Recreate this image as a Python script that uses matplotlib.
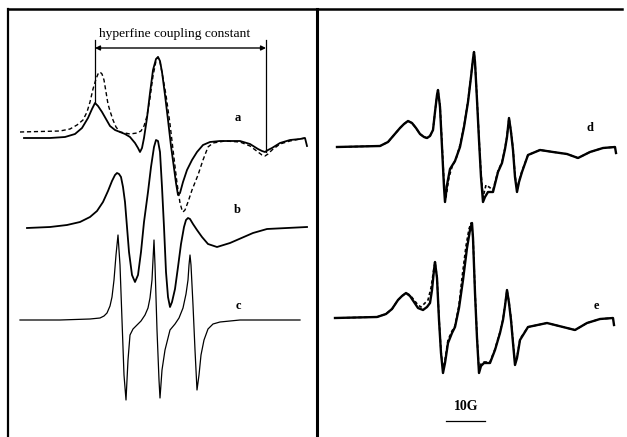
import numpy as np
import matplotlib
matplotlib.use("Agg")
import matplotlib.pyplot as plt

# field position (arb. units) and derivative signal (arb. units, up = positive)
# spectrum a: solid and dashed traces
a_field = [24, 50, 65, 75, 82, 88, 92, 95, 98, 102, 106, 110, 115, 120, 125, 130, 135, 138, 140, 142,
           144, 147, 150, 153, 156, 158, 160, 162, 165, 168, 171, 174, 176, 178, 180, 183, 187, 192, 197,
           203, 210, 220, 240, 250, 258, 262, 265, 268, 272, 280, 290, 300, 305, 307]
a_signal = [0, 0, 1, 4, 10, 20, 29, 35, 32, 26, 19, 12, 8, 6, 4, 1, -5, -10, -14, -10,
            0, 20, 45, 68, 79, 81, 77, 66, 43, 18, -8, -30, -45, -57, -55, -44, -32, -22, -14,
            -7, -4, -3, -3, -6, -11, -13, -14, -12, -10, -5, -2, -1, 0, -8]
a2_field = [20, 60, 70, 77, 83, 87, 90, 93, 96, 98, 100, 102, 104, 106, 108, 110, 113, 116, 120, 125,
            130, 137, 141, 144, 147, 150, 153, 156, 158, 160, 163, 166, 170, 174, 177, 180, 182, 183,
            185, 188, 192, 198, 203, 208, 213, 225, 240, 250, 258, 262, 265, 268, 272, 280, 290, 300, 305]
a2_signal = [6, 7, 9, 13, 18, 26, 36, 49, 59, 64, 66, 64, 58, 46, 34, 27, 18, 11, 6, 5,
             4, 5, 7, 12, 22, 40, 62, 77, 81, 76, 60, 43, 14, -20, -45, -65, -72, -74,
             -72, -64, -52, -37, -22, -9, -5, -3, -4, -8, -14, -17, -18, -16, -12, -6, -3, -1, 0]

# spectrum b
b_field = [27, 50, 67, 80, 90, 97, 103, 108, 112, 115, 117, 119, 121, 123, 125, 127, 129, 132, 135, 138,
           141, 144, 148, 151, 154, 156, 158, 160, 162, 164, 166, 168, 170, 172, 175, 178, 181, 184, 186,
           188, 190, 193, 197, 202, 208, 217, 230, 253, 267, 307]
b_signal = [-1, 0, 2, 5, 10, 16, 25, 36, 46, 52, 54, 53, 50, 40, 25, 0, -25, -48, -55, -48,
            -25, 5, 35, 60, 80, 87, 86, 75, 40, 0, -45, -70, -80, -75, -62, -40, -17, 0, 7,
            9, 8, 3, -3, -10, -17, -20, -16, -6, -2, 0]

# spectrum c
c_field = [20, 60, 90, 100, 104, 107, 110, 112, 114, 116, 118, 120, 122, 124, 126, 128, 130, 133, 137, 141,
           145, 148, 150, 152, 153, 154, 155, 157, 159, 160, 162, 165, 170, 175, 179, 183, 186, 188, 189,
           190, 191, 193, 195, 197, 199, 201, 204, 208, 213, 220, 240, 270, 300]
c_signal = [0, 0, 1, 2, 4, 7, 14, 23, 40, 65, 85, 55, 0, -55, -80, -40, -15, -9, -5, -1,
            5, 12, 22, 40, 60, 80, 55, -10, -60, -78, -50, -30, -10, -4, 2, 12, 26, 40, 55,
            65, 55, 15, -30, -70, -55, -35, -20, -9, -4, -2, 0, 0, 0]

# spectrum d: solid and dashed traces
d_field = [337, 380, 388, 394, 400, 404, 408, 412, 416, 420, 424, 427, 430, 433, 435, 437, 438, 440, 442,
           444, 445, 447, 450, 455, 460, 464, 468, 471, 473, 474, 475, 477, 479, 481, 483, 485, 488, 493,
           498, 502, 505, 507, 509, 511, 513, 515, 517, 519, 522, 528, 540, 553, 567, 578, 590, 603, 615, 616]
d_signal = [0, 1, 5, 12, 19, 23, 26, 24, 19, 13, 10, 9, 11, 17, 35, 52, 57, 40, 0,
            -40, -55, -38, -22, -14, 0, 20, 45, 70, 88, 95, 85, 47, 7, -30, -55, -50, -45, -45,
            -25, -16, -2, 10, 29, 15, -3, -30, -45, -35, -25, -8, -3, -5, -7, -11, -5, -1, 0, -6]
d2_field = [337, 380, 388, 394, 400, 404, 408, 412, 416, 420, 424, 427, 430, 433, 435, 437, 438, 440, 442,
            444, 446, 449, 452, 456, 460, 464, 468, 471, 473, 474, 475, 477, 479, 481, 483, 486, 489, 493,
            498, 502, 505, 507, 509, 511, 513, 515, 517, 519, 522, 528, 540, 553, 567, 578, 590, 603, 615]
d2_signal = [0, 1, 5, 12, 19, 23, 26, 24, 19, 13, 10, 9, 11, 17, 35, 52, 56, 42, 4,
             -36, -50, -30, -20, -12, 2, 21, 46, 71, 88, 95, 85, 49, 9, -26, -50, -38, -40, -43,
             -24, -15, -1, 11, 29, 16, -1, -28, -43, -34, -24, -8, -3, -5, -7, -11, -5, -1, 0]

# spectrum e: solid and dashed traces
e_field = [335, 377, 386, 392, 398, 402, 406, 410, 414, 418, 423, 427, 430, 432, 434, 435, 437, 439, 441,
           443, 445, 448, 452, 455, 459, 463, 467, 470, 472, 473, 475, 477, 479, 481, 484, 490, 495, 500,
           503, 505, 507, 509, 511, 513, 515, 517, 520, 528, 547, 563, 575, 587, 600, 613, 614]
e_signal = [0, 1, 4, 9, 18, 22, 25, 22, 16, 10, 8, 11, 15, 28, 48, 56, 40, -2, -35,
            -55, -45, -25, -15, -9, 10, 38, 70, 88, 95, 80, 25, -20, -55, -48, -45, -45, -32, -15,
            -2, 12, 28, 15, -2, -25, -47, -40, -22, -9, -5, -9, -12, -5, -1, 0, -7]
e2_field = [335, 377, 386, 392, 398, 402, 406, 410, 414, 418, 421, 425, 428, 431, 434, 435, 437, 439, 441,
            443, 445, 448, 452, 455, 459, 462, 466, 469, 471, 473, 475, 477, 479, 481, 484, 490, 495, 500,
            503, 505, 507, 509, 511, 513, 515, 517, 520, 528, 547, 563, 575, 587, 600, 613]
e2_signal = [0, 1, 4, 9, 18, 22, 25, 23, 18, 13, 11, 15, 18, 30, 50, 56, 41, 0, -33,
             -52, -42, -22, -13, -8, 13, 40, 72, 89, 95, 82, 27, -18, -52, -46, -44, -44, -31, -14,
             -1, 13, 28, 16, 0, -23, -45, -39, -21, -9, -5, -9, -12, -5, -1, 0]

labels = ["a", "b", "c", "d", "e"]

fig = plt.figure(figsize=(6.27, 4.37), dpi=100)
ax = fig.add_axes([0, 0, 1, 1])
ax.set_xlim(0, 627)
ax.set_ylim(437, 0)
ax.axis("off")

serif = ["Liberation Serif", "DejaVu Serif"]

# baselines of the stacked spectra
base = {"a": 138, "b": 227, "c": 320, "d": 147, "e": 318}
kw = dict(color="black", solid_joinstyle="round", dash_joinstyle="round")

ax.plot(a_field, base["a"] - np.array(a_signal), lw=1.3, **kw)
ax.plot(a2_field, base["a"] - np.array(a2_signal), lw=1.0, ls=(0, (3, 2)), **kw)
ax.plot(b_field, base["b"] - np.array(b_signal), lw=1.3, **kw)
ax.plot(c_field, base["c"] - np.array(c_signal), lw=0.9, **kw)
ax.plot(d2_field, base["d"] - np.array(d2_signal), lw=1.2, ls=(0, (2, 1.5)), **kw)
ax.plot(d_field, base["d"] - np.array(d_signal), lw=1.7, **kw)
ax.plot(e2_field, base["e"] - np.array(e2_signal), lw=1.2, ls=(0, (2, 1.5)), **kw)
ax.plot(e_field, base["e"] - np.array(e_signal), lw=1.7, **kw)

label_pos = {"a": (238, 118), "b": (237, 210), "c": (238, 306), "d": (590, 128), "e": (596, 306)}
for lab in labels:
    ax.text(*label_pos[lab], lab, ha="center", va="center", fontsize=9,
            fontweight="bold", family=serif)

# hyperfine coupling constant marker
ax.plot([95, 95], [40, 103], color="black", lw=0.9)
ax.plot([266, 266], [40, 152], color="black", lw=0.9)
ax.annotate("", xy=(95, 48), xytext=(266, 48),
            arrowprops=dict(arrowstyle="<|-|>", color="black", lw=1.0,
                            mutation_scale=7, shrinkA=0, shrinkB=0))
ax.text(175, 34, "hyperfine coupling constant", ha="center", va="center",
        fontsize=9.7, family=serif)

# 10 G scale bar
ax.text(466, 407, "10G", ha="center", va="center", fontsize=10,
        fontweight="bold", family=serif)
ax.plot([446, 485], [421, 421], color="black", lw=0.9)

# panel frame
ax.plot([8, 622], [9, 9], color="black", lw=1.8)
ax.plot([8, 8], [9, 437], color="black", lw=1.6)
ax.plot([317, 317], [9, 437], color="black", lw=2.2)

fig.savefig("out.png", dpi=100)
